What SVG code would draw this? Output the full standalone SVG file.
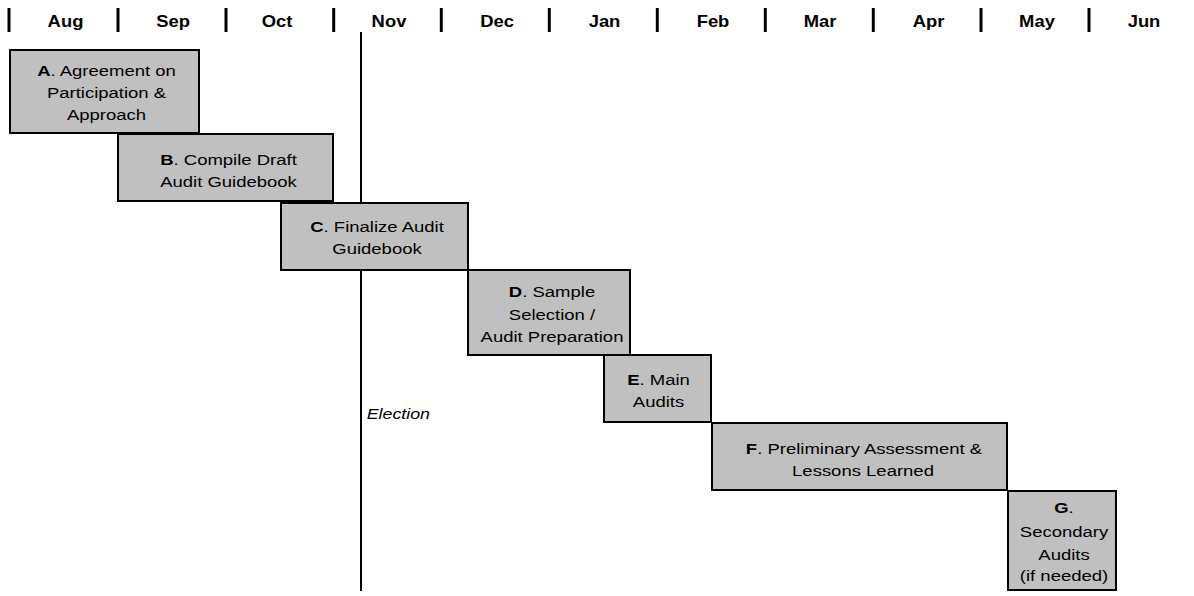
<svg xmlns="http://www.w3.org/2000/svg" width="1194" height="596" viewBox="0 0 1194 596">
<style>
text{font-family:"Liberation Sans",Arial,sans-serif;fill:#000}
.m{font-size:18.4px;font-weight:bold;text-anchor:middle}
.t{font-size:18.5px;text-anchor:middle}
.e{font-size:17.8px;font-style:italic}
.box{fill:#C0C0C0;stroke:#000;stroke-width:2}
.sep{stroke:#000;stroke-width:3}
b,.b{font-weight:bold}
</style>
<rect width="1194" height="596" fill="#fff"/>
<g id="header">
<g class="sep">
<line x1="9" y1="8" x2="9" y2="32"/>
<line x1="118" y1="8" x2="118" y2="32"/>
<line x1="226" y1="8" x2="226" y2="32"/>
<line x1="333.7" y1="8" x2="333.7" y2="32"/>
<line x1="441.3" y1="8" x2="441.3" y2="32"/>
<line x1="549.3" y1="8" x2="549.3" y2="32"/>
<line x1="657.3" y1="8" x2="657.3" y2="32"/>
<line x1="765.3" y1="8" x2="765.3" y2="32"/>
<line x1="873.3" y1="8" x2="873.3" y2="32"/>
<line x1="981" y1="8" x2="981" y2="32"/>
<line x1="1089" y1="8" x2="1089" y2="32"/>
</g>
<text class="m" transform="translate(65.5 26.8) scale(1 0.88)">Aug</text>
<text class="m" transform="translate(173 26.8) scale(1 0.88)">Sep</text>
<text class="m" transform="translate(277 26.8) scale(1 0.88)">Oct</text>
<text class="m" transform="translate(389 26.8) scale(1 0.88)">Nov</text>
<text class="m" transform="translate(497 26.8) scale(1 0.88)">Dec</text>
<text class="m" transform="translate(604.5 26.8) scale(1 0.88)">Jan</text>
<text class="m" transform="translate(713 26.8) scale(1 0.88)">Feb</text>
<text class="m" transform="translate(820 26.8) scale(1 0.88)">Mar</text>
<text class="m" transform="translate(928.5 26.8) scale(1 0.88)">Apr</text>
<text class="m" transform="translate(1037 26.8) scale(1 0.88)">May</text>
<text class="m" transform="translate(1144 26.8) scale(1 0.88)">Jun</text>
</g>
<g id="election">
<line x1="361" y1="32" x2="361" y2="591" stroke="#000" stroke-width="2"/>
<text class="e" transform="translate(366.7 419.3) scale(1 0.84)">Election</text>
</g>
<g id="connectors"></g>
<g id="nodeA">
<rect class="box" x="10" y="50" width="189" height="83"/>
<text class="t" transform="translate(106.5 76) scale(1 0.82)"><tspan class="b">A</tspan>. Agreement on</text>
<text class="t" transform="translate(106.5 98) scale(1 0.82)">Participation &amp;</text>
<text class="t" transform="translate(106.5 120) scale(1 0.82)">Approach</text>
</g>
<g id="nodeB">
<rect class="box" x="118" y="134" width="215" height="67"/>
<text class="t" transform="translate(228.5 164.5) scale(1 0.82)"><tspan class="b">B</tspan>. Compile Draft</text>
<text class="t" transform="translate(228.5 186.5) scale(1 0.82)">Audit Guidebook</text>
</g>
<g id="nodeC">
<rect class="box" x="281" y="203" width="187" height="67"/>
<text class="t" transform="translate(377 232) scale(1 0.82)"><tspan class="b">C</tspan>. Finalize Audit</text>
<text class="t" transform="translate(377 254) scale(1 0.82)">Guidebook</text>
</g>
<g id="nodeD">
<rect class="box" x="468" y="270" width="162" height="85"/>
<text class="t" transform="translate(552 297) scale(1 0.82)"><tspan class="b">D</tspan>. Sample</text>
<text class="t" transform="translate(552 319.5) scale(1 0.82)">Selection /</text>
<text class="t" transform="translate(552 342) scale(1 0.82)">Audit Preparation</text>
</g>
<g id="nodeE">
<rect class="box" x="604" y="355" width="107" height="67"/>
<text class="t" transform="translate(658.5 385) scale(1 0.82)"><tspan class="b">E</tspan>. Main</text>
<text class="t" transform="translate(658.5 407) scale(1 0.82)">Audits</text>
</g>
<g id="nodeF">
<rect class="box" x="712" y="423" width="295" height="67"/>
<text class="t" transform="translate(864 454) scale(1 0.82)"><tspan class="b">F</tspan>. Preliminary Assessment &amp;</text>
<text class="t" transform="translate(863 476) scale(1 0.82)">Lessons Learned</text>
</g>
<g id="nodeG">
<rect class="box" x="1008" y="491" width="108" height="99"/>
<text class="t" transform="translate(1064 513.3) scale(1 0.82)"><tspan class="b">G</tspan>.</text>
<text class="t" transform="translate(1064 537) scale(1 0.82)">Secondary</text>
<text class="t" transform="translate(1064 559.5) scale(1 0.82)">Audits</text>
<text class="t" transform="translate(1064 581) scale(1 0.82)">(if needed)</text>
</g>
</svg>
